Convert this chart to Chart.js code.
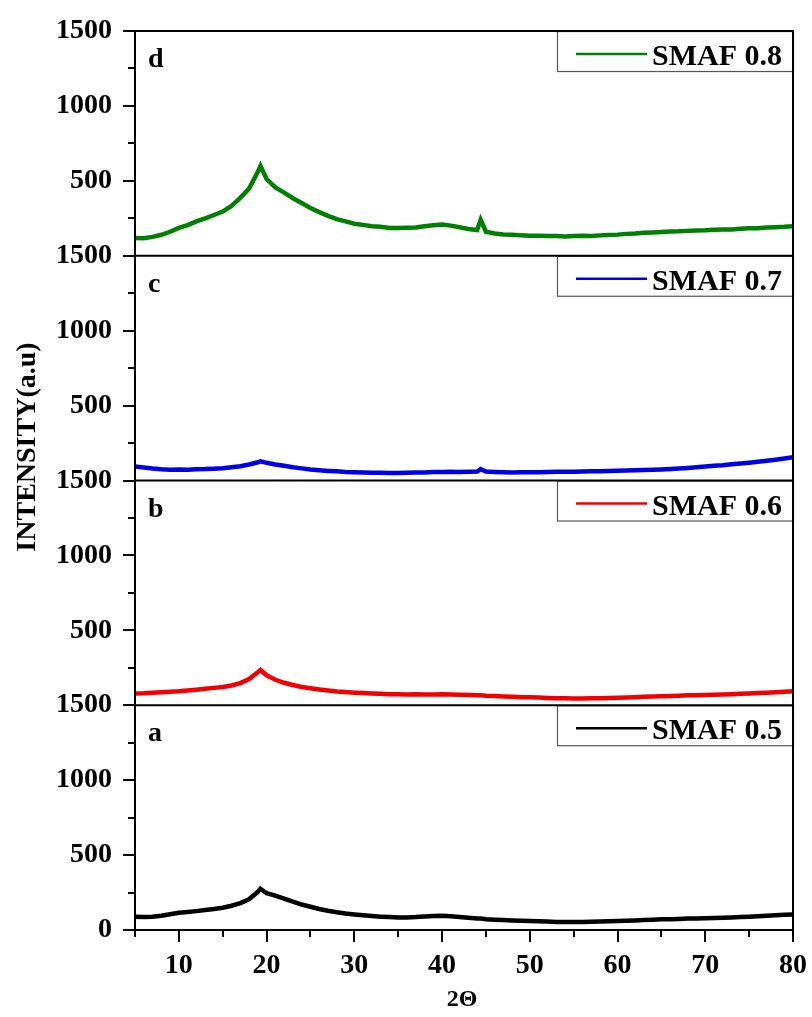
<!DOCTYPE html>
<html>
<head>
<meta charset="utf-8">
<script src="https://cdn.jsdelivr.net/npm/chart.js@4/dist/chart.umd.min.js"></script>
<style>
  body { margin: 0; background: #fff; }
  canvas { display: block; }
</style>
</head>
<body>
<canvas id="XRD" width="812" height="1017"></canvas>
<script>
// 2-theta positions (deg), shared by all four patterns
var twoTheta = [5, 6, 7, 8, 9, 10, 11, 12, 13, 14, 15, 16, 17, 18, 19, 19.3,
    20, 21, 22, 23, 24, 25, 26, 27, 28, 29, 30, 31, 32, 33, 34, 35, 36, 37, 38, 39,
    40, 41, 42, 43, 44, 44.4, 45, 46, 47, 48, 49, 50, 51, 52, 53, 54, 55, 56, 57, 58, 59,
    60, 61, 62, 63, 64, 65, 66, 67, 68, 69, 70, 71, 72, 73, 74, 75, 76, 77, 78, 79, 80];

var smaf05 = [89, 86, 88, 95, 105, 115, 120, 126, 133, 140, 149, 162, 180, 205, 255, 275,
    245, 230, 210, 189, 170, 155, 140, 128, 118, 110, 104, 98, 93, 89, 86, 84, 84, 86, 90, 94,
    95, 92, 87, 82, 77, 76, 72, 69, 66, 63, 61, 60, 58, 56, 54, 53, 53, 54, 55, 57, 58,
    60, 62, 64, 66, 68, 71, 72, 74, 76, 77, 78, 80, 82, 84, 86, 89, 92, 95, 98, 101, 104];

var smaf06 = [78, 80, 84, 87, 90, 93, 98, 104, 110, 116, 122, 132, 148, 175, 220, 235,
    200, 170, 150, 135, 122, 113, 105, 98, 92, 88, 84, 81, 78, 76, 74, 73, 72, 73, 72, 72,
    73, 71, 70, 68, 66, 67, 64, 61, 58, 56, 54, 53, 51, 49, 47, 46, 45, 45, 46, 47, 48,
    50, 52, 54, 56, 58, 60, 62, 64, 66, 67, 68, 70, 72, 74, 76, 78, 81, 84, 87, 90, 93];

var smaf07 = [93, 87, 80, 75, 72, 73, 72, 75, 76, 79, 82, 89, 95, 107, 122, 128,
    118, 107, 98, 88, 81, 73, 68, 64, 61, 57, 55, 54, 52, 51, 50, 50, 51, 53, 54, 56,
    57, 58, 57, 58, 60, 76, 60, 57, 55, 54, 55, 55, 55, 56, 58, 58, 59, 60, 61, 62, 63,
    65, 66, 68, 70, 72, 74, 77, 80, 84, 88, 93, 98, 102, 108, 113, 119, 125, 132, 139, 147, 155];

var smaf08 = [118, 117, 126, 140, 160, 186, 204, 229, 250, 272, 295, 333, 386, 448, 560, 600,
    512, 456, 421, 384, 352, 319, 291, 266, 244, 229, 214, 206, 197, 193, 186, 185, 187, 189, 197, 203,
    208, 201, 190, 179, 172, 240, 160, 149, 142, 140, 136, 134, 133, 131, 132, 129, 131, 133, 132, 136, 138,
    141, 146, 148, 153, 155, 158, 162, 163, 166, 169, 170, 173, 175, 176, 180, 183, 184, 188, 191, 193, 197];

// panels listed bottom to top
var panelSeries = [smaf05, smaf06, smaf07, smaf08];
var panelNames = ["SMAF 0.5", "SMAF 0.6", "SMAF 0.7", "SMAF 0.8"];
var panelLetters = ["a", "b", "c", "d"];
var panelColors = ["#000000", "#f20000", "#0000e8", "#008000"];
var panelKeys = ["ya", "yb", "yc", "yd"];

var serif = "'Liberation Serif', 'Times New Roman', serif";

function tickFont(sz) {
    return { family: serif, size: sz, weight: 'bold' };
}

// drop the label overflow padding so the plot area sits where layout.padding puts it
function noPad(s) {
    s.paddingTop = 0;
    s.paddingBottom = 0;
    s.paddingLeft = 0;
    s.paddingRight = 0;
}

function panelScale(i) {
    return {
        type: 'linear',
        position: 'left',
        stack: 'panels',
        stackWeight: 1,
        min: 0,
        max: 1500,
        grid: { display: false, drawTicks: false },
        border: { display: false },
        ticks: {
            stepSize: 250,
            autoSkip: false,
            padding: 23,
            color: '#000',
            font: tickFont(28),
            callback: function (v) {
                if (v % 500 !== 0) return '';
                if (v === 0 && i > 0) return '';
                return v;
            }
        },
        afterFit: function (s) { s.width = 135; noPad(s); }
    };
}

// frame, tick marks, per-panel legend boxes and axis titles
var frame = {
    id: 'frame',
    afterDatasetsDraw: function (chart) {
        var ctx = chart.ctx;
        var area = chart.chartArea;
        var xs = chart.scales.x;
        ctx.save();
        ctx.strokeStyle = '#000';
        ctx.lineWidth = 2;

        // y ticks
        panelKeys.forEach(function (k) {
            var ys = chart.scales[k];
            for (var v = 0; v <= 1500; v += 250) {
                var y = Math.round(ys.getPixelForValue(v));
                var len = v % 500 === 0 ? 12 : 7;
                ctx.beginPath();
                ctx.moveTo(area.left - len, y);
                ctx.lineTo(area.left, y);
                ctx.stroke();
            }
        });

        // x ticks
        for (var t = 5; t <= 80; t += 5) {
            var x = Math.round(xs.getPixelForValue(t));
            var len = t % 10 === 0 ? 12 : 7;
            ctx.beginPath();
            ctx.moveTo(x, area.bottom);
            ctx.lineTo(x, area.bottom + len);
            ctx.stroke();
        }

        // legend boxes and panel letters
        panelKeys.forEach(function (k, i) {
            var ys = chart.scales[k];
            var top = ys.top;
            var bx = 557;
            ctx.fillStyle = '#fff';
            ctx.fillRect(bx, top, area.right - bx, 40);
            ctx.strokeStyle = '#555';
            ctx.lineWidth = 1.2;
            ctx.strokeRect(bx + 0.5, top + 0.5, area.right - bx, 40);

            ctx.strokeStyle = panelColors[i];
            ctx.lineWidth = 2.5;
            ctx.beginPath();
            ctx.moveTo(576, top + 23);
            ctx.lineTo(647, top + 23);
            ctx.stroke();

            ctx.fillStyle = '#000';
            ctx.font = 'bold 30px ' + serif;
            ctx.textAlign = 'left';
            ctx.textBaseline = 'alphabetic';
            ctx.fillText(panelNames[i], 652, top + 34);

            ctx.font = 'bold 28px ' + serif;
            ctx.fillText(panelLetters[i], 148, top + 36);
        });

        // panel borders
        ctx.strokeStyle = '#000';
        ctx.lineWidth = 2;
        ctx.beginPath();
        ctx.moveTo(area.left, area.top);
        ctx.lineTo(area.left, area.bottom);
        ctx.moveTo(area.right, area.top);
        ctx.lineTo(area.right, area.bottom);
        ctx.moveTo(area.left - 1, area.bottom);
        ctx.lineTo(area.right + 1, area.bottom);
        panelKeys.forEach(function (k) {
            var y = chart.scales[k].top;
            ctx.moveTo(area.left - 1, y);
            ctx.lineTo(area.right + 1, y);
        });
        ctx.stroke();

        // axis titles
        ctx.fillStyle = '#000';
        ctx.font = 'bold 28px ' + serif;
        ctx.textAlign = 'center';
        ctx.textBaseline = 'middle';
        ctx.save();
        ctx.translate(28, 447);
        ctx.rotate(-Math.PI / 2);
        ctx.fillText('INTENSITY(a.u)', 0, 0);
        ctx.restore();

        ctx.font = 'bold 24px ' + serif;
        ctx.fillText('2\u0398', 462, 1000);
        ctx.restore();
    }
};

var scales = {
    x: {
        type: 'linear',
        min: 5,
        max: 80,
        grid: { display: false, drawTicks: false },
        border: { display: false },
        ticks: {
            stepSize: 5,
            autoSkip: false,
            maxRotation: 0,
            padding: 19,
            color: '#000',
            font: tickFont(28),
            callback: function (v) { return v % 10 === 0 ? v : ''; }
        },
        afterFit: function (s) { s.height = 87; noPad(s); }
    }
};
panelKeys.forEach(function (k, i) { scales[k] = panelScale(i); });

var datasets = panelSeries.map(function (vals, i) {
    return {
        label: panelNames[i],
        data: twoTheta.map(function (t, j) { return { x: t, y: vals[j] }; }),
        yAxisID: panelKeys[i],
        borderColor: panelColors[i],
        borderWidth: 4.5,
        pointRadius: 0,
        tension: 0
    };
});

var ctx = document.getElementById('XRD').getContext('2d');
var xrdChart = new Chart(ctx, {
    type: 'line',
    data: { datasets: datasets },
    options: {
        responsive: false,
        animation: false,
        devicePixelRatio: 1,
        layout: { padding: { top: 31, right: 19, left: 0, bottom: 0 } },
        plugins: {
            legend: { display: false },
            tooltip: { enabled: false }
        },
        scales: scales
    },
    plugins: [frame]
});
</script>
</body>
</html>
